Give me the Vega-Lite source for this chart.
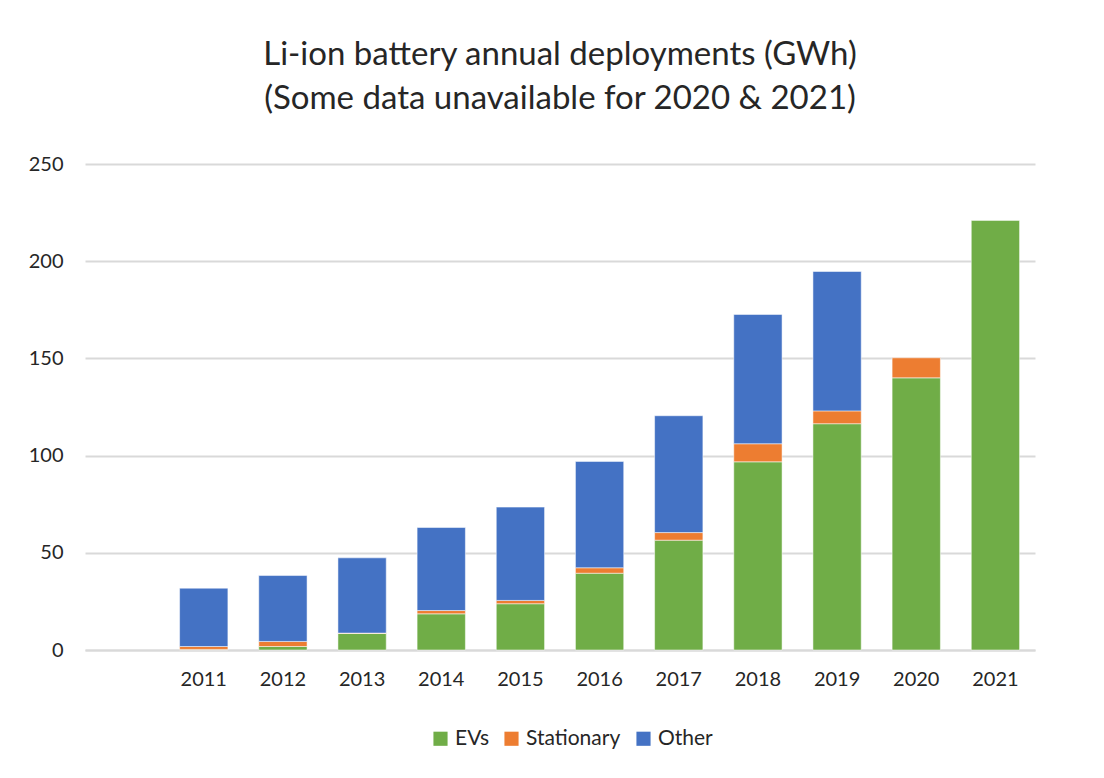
{
  "$schema": "https://vega.github.io/schema/vega-lite/v6.json",
  "autosize": "none",
  "width": 950,
  "height": 486,
  "padding": {"left": 85, "top": 164, "right": 69, "bottom": 128},
  "background": "#ffffff",
  "title": {
    "text": ["Li-ion battery annual deployments (GWh)", "(Some data unavailable for 2020 & 2021)"],
    "fontSize": 33,
    "font": "Lato",
    "fontWeight": "normal",
    "color": "#262626",
    "lineHeight": 44,
    "anchor": "middle",
    "offset": 38
  },
  "data": {
    "values": [
      {"year": "2011", "type": "EVs", "k": 1, "gwh": 0.3},
      {"year": "2011", "type": "Stationary", "k": 2, "gwh": 1.5},
      {"year": "2011", "type": "Other", "k": 3, "gwh": 30.0},
      {"year": "2012", "type": "EVs", "k": 1, "gwh": 1.8},
      {"year": "2012", "type": "Stationary", "k": 2, "gwh": 2.6},
      {"year": "2012", "type": "Other", "k": 3, "gwh": 33.9},
      {"year": "2013", "type": "EVs", "k": 1, "gwh": 8.5},
      {"year": "2013", "type": "Stationary", "k": 2, "gwh": 0.2},
      {"year": "2013", "type": "Other", "k": 3, "gwh": 38.7},
      {"year": "2014", "type": "EVs", "k": 1, "gwh": 18.6},
      {"year": "2014", "type": "Stationary", "k": 2, "gwh": 1.7},
      {"year": "2014", "type": "Other", "k": 3, "gwh": 42.7},
      {"year": "2015", "type": "EVs", "k": 1, "gwh": 23.8},
      {"year": "2015", "type": "Stationary", "k": 2, "gwh": 1.7},
      {"year": "2015", "type": "Other", "k": 3, "gwh": 48.0},
      {"year": "2016", "type": "EVs", "k": 1, "gwh": 39.5},
      {"year": "2016", "type": "Stationary", "k": 2, "gwh": 2.8},
      {"year": "2016", "type": "Other", "k": 3, "gwh": 54.7},
      {"year": "2017", "type": "EVs", "k": 1, "gwh": 56.5},
      {"year": "2017", "type": "Stationary", "k": 2, "gwh": 3.9},
      {"year": "2017", "type": "Other", "k": 3, "gwh": 60.1},
      {"year": "2018", "type": "EVs", "k": 1, "gwh": 96.8},
      {"year": "2018", "type": "Stationary", "k": 2, "gwh": 9.3},
      {"year": "2018", "type": "Other", "k": 3, "gwh": 66.5},
      {"year": "2019", "type": "EVs", "k": 1, "gwh": 116.4},
      {"year": "2019", "type": "Stationary", "k": 2, "gwh": 6.6},
      {"year": "2019", "type": "Other", "k": 3, "gwh": 71.7},
      {"year": "2020", "type": "EVs", "k": 1, "gwh": 140.0},
      {"year": "2020", "type": "Stationary", "k": 2, "gwh": 10.3},
      {"year": "2021", "type": "EVs", "k": 1, "gwh": 221.0}
    ]
  },
  "mark": {"type": "bar", "stroke": "#ffffff", "strokeOpacity": 0.5, "strokeWidth": 1},
  "encoding": {
    "x": {
      "field": "year",
      "type": "nominal",
      "scale": {
        "domain": ["2010", "2011", "2012", "2013", "2014", "2015", "2016", "2017", "2018", "2019", "2020", "2021"],
        "paddingInner": 0.39,
        "paddingOuter": 0.195
      },
      "axis": {
        "title": null,
        "labelAngle": 0,
        "labelExpr": "datum.value == '2010' ? '' : datum.value",
        "ticks": false,
        "domainColor": "#d9d9d9",
        "domainWidth": 2,
        "labelFont": "Lato",
        "labelFontSize": 20,
        "labelColor": "#262626",
        "labelPadding": 19
      }
    },
    "y": {
      "field": "gwh",
      "type": "quantitative",
      "stack": "zero",
      "scale": {"domain": [0, 250], "nice": false},
      "axis": {
        "title": null,
        "values": [0, 50, 100, 150, 200, 250],
        "domain": false,
        "ticks": false,
        "gridColor": "#d9d9d9",
        "gridWidth": 2,
        "labelFont": "Lato",
        "labelFontSize": 20,
        "labelColor": "#262626",
        "labelPadding": 22
      }
    },
    "color": {
      "field": "type",
      "type": "nominal",
      "scale": {"domain": ["EVs", "Stationary", "Other"], "range": ["#70AD47", "#ED7D31", "#4472C4"]},
      "legend": {
        "title": null,
        "orient": "none",
        "direction": "horizontal",
        "legendX": 345,
        "legendY": 564,
        "symbolType": "square",
        "symbolSize": 200,
        "symbolStrokeWidth": 0,
        "labelFont": "Lato",
        "labelFontSize": 21,
        "labelColor": "#262626",
        "columnPadding": 12
      }
    },
    "order": {"field": "k", "type": "quantitative"}
  },
  "config": {"view": {"stroke": null}}
}
